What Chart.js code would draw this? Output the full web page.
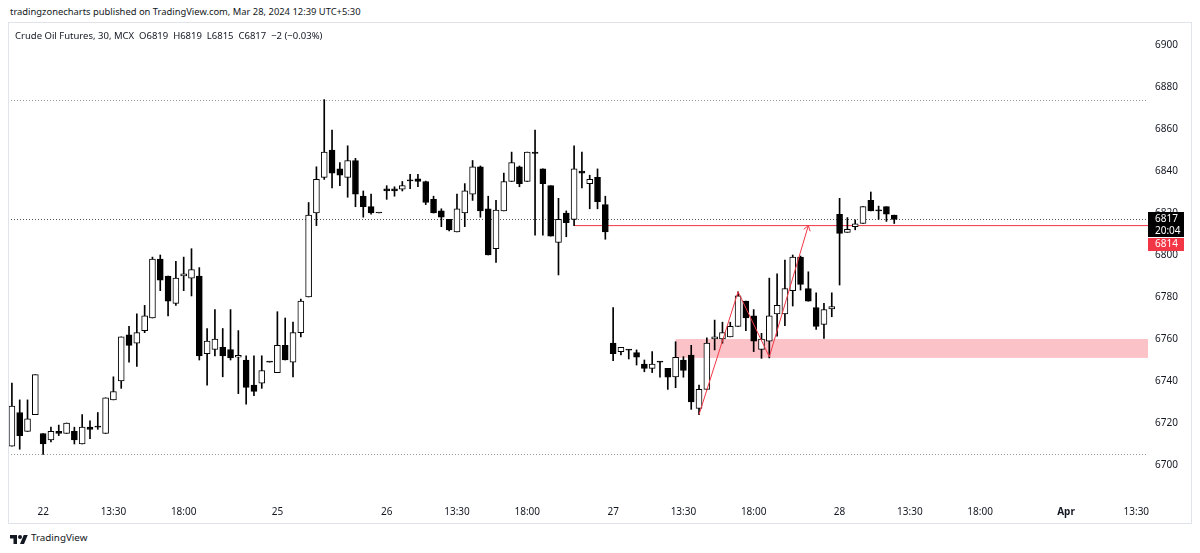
<!DOCTYPE html>
<html><head><meta charset="utf-8">
<script src="https://cdn.jsdelivr.net/npm/chart.js@4.4.1/dist/chart.umd.min.js"></script>
<style>
html,body{margin:0;padding:0;background:#fff;width:1200px;height:553px;overflow:hidden;font-family:"Noto Sans",Roboto,sans-serif;color:#131722;}
#pub{position:absolute;left:10px;top:5px;font-size:9.4px;line-height:13px;white-space:nowrap;}
#pane{position:absolute;left:8px;top:23px;width:1183px;height:500px;}
#border{position:absolute;left:8px;top:22px;width:1184px;height:502px;border:1px solid #e0e3eb;box-sizing:border-box;pointer-events:none;}
#legend{position:absolute;left:15px;top:29px;font-size:9.5px;line-height:14px;white-space:nowrap;}
#foot{position:absolute;left:10px;top:531px;font-size:9.8px;line-height:14px;display:flex;align-items:center;gap:3px;white-space:nowrap;}
</style></head><body>
<div id="pub">tradingzonecharts published on TradingView.com, Mar 28, 2024 12:39 UTC+5:30</div>
<div id="pane"><canvas id="c"></canvas></div>
<div id="border"></div>
<div id="legend">Crude Oil Futures, 30, MCX&nbsp; O6819&nbsp; H6819&nbsp; L6815&nbsp; C6817&nbsp; −2 (−0.03%)</div>
<div id="foot"><svg width="18" height="11" viewBox="0 0 36 22"><path d="M14 22H7V11H0V4h14v18zM28 22h-8l7.5-18h8L28 22z" fill="#131722"/><circle cx="20" cy="8" r="4" fill="#131722"/></svg><span>TradingView</span></div>
<script>
// ---- sessions (category axis) ----
const sessionDays  = ['21', '22', '25', '26', '27', '28', 'Apr 1'];
const sessionStart = ['21:30', '09:00', '17:00', '09:00', '09:00', '09:00', '09:00'];
const sessionSlots = [4, 30, 14, 29, 29, 29, 11];

// ---- tick labels ----
const tickAt   = ['22 09:00','22 13:30','22 18:00','25 17:00','26 09:00','26 13:30','26 18:00','27 09:00','27 13:30','27 18:00','28 09:00','28 13:30','28 18:00','Apr 1 09:00','Apr 1 13:30'];
const tickText = ['22','13:30','18:00','25','26','13:30','18:00','27','13:30','18:00','28','13:30','18:00','Apr','13:30'];
const yTicks   = [6700, 6720, 6740, 6760, 6780, 6800, 6820, 6840, 6860, 6880, 6900];
const yMin = 6684.76, yMax = 6910.48;

// ---- OHLC series ----
const openArr = [
  6709, 6725, 6716, 6724,
  6715, 6712, 6716, 6715, 6716, 6710, 6718, 6718, 6715, 6731, 6740, 6762, 6758, 6764, 6770, 6798, 6790, 6777, 6790, 6789, 6790, 6753, 6755, 6756, 6755, 6751.3, 6750, 6738, 6739, 6749,
  6744, 6757, 6749, 6763, 6780, 6820, 6837, 6850, 6841, 6837, 6845, 6828, 6823, 6820,
  6831.5, 6831.5, 6831.3, 6835.3, 6836.3, 6835, 6826.5, 6821, 6817, 6811, 6820, 6829, 6842, 6822, 6803, 6821, 6835, 6842, 6835, 6849, 6841, 6833, 6806, 6820, 6817, 6840, 6834, 6837, 6824,
  6758, 6754, 6755, 6753.5, 6748, 6746, 6749.2, 6746, 6742, 6750, 6752.4, 6727, 6736, 6760, 6760, 6761, 6766, 6778, 6771, 6755, 6759, 6772, 6772, 6783, 6799, 6784, 6775, 6767, 6774.3,
  6819.4, 6810.8, 6813.5, 6815, 6826, 6821.1, 6823, 6819
];
const highArr = [
  6739, 6731, 6731, 6743,
  6715, 6718, 6719, 6720, 6718, 6724, 6721, 6725, 6732, 6742, 6761, 6766, 6772, 6776, 6799, 6800, 6790, 6797, 6799, 6803, 6794, 6765, 6774, 6765, 6774, 6764, 6752, 6752, 6752, 6749,
  6773, 6770, 6768, 6779, 6825, 6842, 6874, 6859.5, 6844, 6852, 6846, 6830.5, 6829, 6820,
  6833, 6832.5, 6835, 6838.4, 6838.4, 6835.2, 6828, 6822, 6817, 6829, 6834, 6845, 6842.4, 6828, 6826, 6839, 6849, 6842.4, 6849, 6859.5, 6841, 6833, 6827, 6821, 6852, 6849, 6838, 6841, 6828,
  6775, 6756, 6755, 6754.8, 6750, 6754, 6749.3, 6746, 6758.7, 6751.6, 6757, 6738, 6760.6, 6769, 6768, 6768, 6782.5, 6778, 6774, 6762.7, 6789, 6791, 6797.6, 6800, 6799.5, 6792, 6782, 6777, 6782,
  6827, 6817.8, 6816.7, 6823, 6830, 6823.3, 6823, 6819
];
const lowArr = [
  6709, 6707.5, 6716, 6724,
  6705, 6711, 6714, 6715, 6710, 6710, 6712.5, 6717, 6715, 6731, 6736.5, 6749, 6747, 6763, 6770, 6783, 6771, 6776, 6783, 6780.5, 6750, 6738, 6752, 6742, 6750, 6734, 6729, 6733, 6736.5, 6749,
  6744, 6750, 6742, 6761, 6780, 6814, 6836, 6832, 6833, 6827.5, 6823, 6818, 6819.5, 6820,
  6826.5, 6828, 6830.5, 6831.6, 6832.5, 6824, 6820, 6813.5, 6811.5, 6811, 6813.5, 6826, 6818, 6800, 6796.5, 6821, 6835, 6832.5, 6835, 6809.5, 6809.5, 6809, 6790.5, 6808.7, 6814, 6832, 6822, 6822, 6807.5,
  6749.7, 6752.4, 6750.5, 6747.6, 6744.4, 6744, 6741.8, 6736, 6736.8, 6741.8, 6726.5, 6724, 6736, 6754.8, 6758, 6761, 6766, 6764, 6754, 6750.8, 6751, 6761.4, 6766.3, 6775.7, 6783.3, 6778, 6764.6, 6760.3, 6770.6,
  6785.7, 6810.8, 6812, 6815, 6821, 6817, 6816, 6815
];
const closeArr = [
  6728, 6714, 6722, 6743,
  6710, 6716, 6715, 6720, 6712, 6718, 6717, 6718, 6732, 6735, 6761, 6757, 6763, 6771, 6798, 6788, 6778, 6789, 6791, 6793, 6752, 6759, 6760, 6752, 6751, 6752.2, 6737, 6735, 6745, 6749,
  6757, 6750, 6763, 6778, 6819, 6836, 6849, 6839, 6838, 6845, 6829, 6823, 6820, 6820,
  6830.5, 6830.5, 6833, 6835.5, 6835, 6825, 6820, 6818, 6812, 6822, 6830.5, 6842, 6821, 6800, 6821.4, 6835, 6844, 6834, 6849, 6848.4, 6834, 6809, 6817, 6815.4, 6841, 6839, 6836, 6825.4, 6811,
  6753, 6756, 6754.7, 6751.3, 6746, 6748, 6749, 6741.8, 6751.3, 6745, 6730, 6736, 6758, 6761, 6763, 6766, 6780.6, 6770, 6759, 6760, 6771, 6776, 6784, 6799, 6786, 6778, 6766, 6774, 6775.4,
  6810.3, 6812.2, 6814.8, 6823, 6821, 6821, 6819.4, 6817
];

// ---- drawings ----
const refLines = [6874, 6705];          // high / low dotted lines
const lastPrice = 6817, lastTimer = '20:04';
const rayPrice = 6814, rayStartIndex = 72;
const zoneTop = 6760, zoneBottom = 6751, zoneStartIndex = 85;
const arrowIdx  = [88, 93, 97, 102];
const arrowVals = [6724, 6782.5, 6751.5, 6814];

// ---- build category labels ----
const timeLabels = [];
sessionDays.forEach((d, s) => {
  let [h, m] = sessionStart[s].split(':').map(Number);
  for (let k = 0; k < sessionSlots[s]; k++) {
    timeLabels.push(d + ' ' + String(h).padStart(2,'0') + ':' + String(m).padStart(2,'0'));
    m += 30; if (m >= 60) { m -= 60; h += 1; }
  }
});

const bodyData = openArr.map((o, i) => [o, closeArr[i]]);
const wickData = lowArr.map((l, i) => [l, highArr[i]]);
const bodyColors = openArr.map((o, i) => (closeArr[i] - o > 0.5 ? '#ffffff' : '#000000'));
const arrowData = timeLabels.map(() => null);
arrowIdx.forEach((ix, k) => { arrowData[ix] = arrowVals[k]; });

const FONT = '"Noto Sans", Roboto, sans-serif';
const noPad = (s) => { s.paddingTop = 0; s.paddingBottom = 0; s.paddingLeft = 0; s.paddingRight = 0; };

const overlay = {
  id: 'overlay',
  beforeDatasetsDraw(chart) {
    const {ctx, chartArea: a, scales: {x, y}} = chart;
    ctx.save();
    const zx = x.getPixelForValue(zoneStartIndex);
    const zt = y.getPixelForValue(zoneTop), zb = y.getPixelForValue(zoneBottom);
    ctx.fillStyle = 'rgba(242,54,69,0.3)';
    ctx.fillRect(zx, zt, a.right - zx, zb - zt);
    ctx.lineWidth = 1;
    ctx.setLineDash([1, 2]);
    refLines.forEach(v => {
      const py = Math.round(y.getPixelForValue(v)) + 0.5;
      ctx.strokeStyle = '#9598a1';
      ctx.beginPath(); ctx.moveTo(a.left, py); ctx.lineTo(a.right, py); ctx.stroke();
    });
    const lp = Math.round(y.getPixelForValue(lastPrice)) + 0.5;
    ctx.strokeStyle = '#50535e';
    ctx.beginPath(); ctx.moveTo(a.left, lp); ctx.lineTo(a.right, lp); ctx.stroke();
    ctx.setLineDash([]);
    const rx = x.getPixelForValue(rayStartIndex), ry = y.getPixelForValue(rayPrice);
    ctx.strokeStyle = '#f23645';
    ctx.beginPath(); ctx.moveTo(rx, ry); ctx.lineTo(a.right, ry); ctx.stroke();
    ctx.restore();
  },
  afterDatasetsDraw(chart) {
    const {ctx, scales: {x, y}} = chart;
    const n = arrowIdx.length;
    const tx = x.getPixelForValue(arrowIdx[n-1]), ty = y.getPixelForValue(arrowVals[n-1]);
    const px = x.getPixelForValue(arrowIdx[n-2]), py = y.getPixelForValue(arrowVals[n-2]);
    const ang = Math.atan2(ty - py, tx - px);
    const L = 6, spread = 0.6;
    ctx.save();
    ctx.strokeStyle = '#f23645'; ctx.lineWidth = 1;
    ctx.beginPath();
    ctx.moveTo(tx - L * Math.cos(ang - spread), ty - L * Math.sin(ang - spread));
    ctx.lineTo(tx, ty);
    ctx.lineTo(tx - L * Math.cos(ang + spread), ty - L * Math.sin(ang + spread));
    ctx.stroke();
    ctx.restore();
  },
  afterDraw(chart) {
    const {ctx, chartArea: a, scales: {y}} = chart;
    const lp = y.getPixelForValue(lastPrice);
    const bx = a.right, bw = 36;
    const top = Math.round(lp - 7.5);
    ctx.save();
    ctx.font = '10px ' + FONT;
    ctx.textBaseline = 'middle'; ctx.textAlign = 'left';
    ctx.fillStyle = '#000000';
    ctx.fillRect(bx, top, bw, 25);
    ctx.fillStyle = '#ffffff';
    ctx.fillText(String(lastPrice), bx + 7, lp);
    ctx.fillText(lastTimer, bx + 7, lp + 11.5);
    ctx.fillStyle = '#f23645';
    ctx.fillRect(bx, top + 26, bw, 13);
    ctx.fillStyle = '#ffffff';
    ctx.fillText(String(rayPrice), bx + 7, top + 32.5);
    ctx.restore();
  }
};

new Chart(document.getElementById('c'), {
  type: 'bar',
  data: {
    labels: timeLabels,
    datasets: [
      {type: 'line', data: arrowData, borderColor: '#f23645', borderWidth: 1, pointRadius: 0, spanGaps: true, order: 0},
      {type: 'bar', data: bodyData, backgroundColor: bodyColors, borderColor: '#000000', borderWidth: 1, borderSkipped: false, barThickness: 6, minBarLength: 1, grouped: false, order: 1},
      {type: 'bar', data: wickData, backgroundColor: '#000000', barThickness: 1, grouped: false, order: 2}
    ]
  },
  options: {
    animation: false, responsive: true, maintainAspectRatio: false,
    layout: {padding: 0, autoPadding: false},
    plugins: {legend: {display: false}, tooltip: {enabled: false}},
    scales: {
      x: {
        type: 'category', offset: true,
        grid: {display: false, drawTicks: false}, border: {display: false},
        ticks: {
          autoSkip: false, maxRotation: 0, minRotation: 0, padding: 9, color: '#131722',
          font: (c) => ({family: FONT, size: 10, weight: (c.tick && c.tick.label === 'Apr') ? 'bold' : 'normal'}),
          callback: (v, i) => { const k = tickAt.indexOf(timeLabels[i]); return k >= 0 ? tickText[k] : ''; }
        },
        afterFit: (s) => { s.height = 26; noPad(s); }
      },
      y: {
        position: 'right', min: yMin, max: yMax,
        grid: {display: false, drawTicks: false}, border: {display: false},
        ticks: {padding: 7, color: '#131722', font: {family: FONT, size: 10}, callback: (v) => String(v)},
        afterBuildTicks: (s) => { s.ticks = yTicks.map(v => ({value: v})); },
        afterFit: (s) => { s.width = 43; noPad(s); }
      }
    }
  },
  plugins: [overlay]
});
</script>
</body></html>
